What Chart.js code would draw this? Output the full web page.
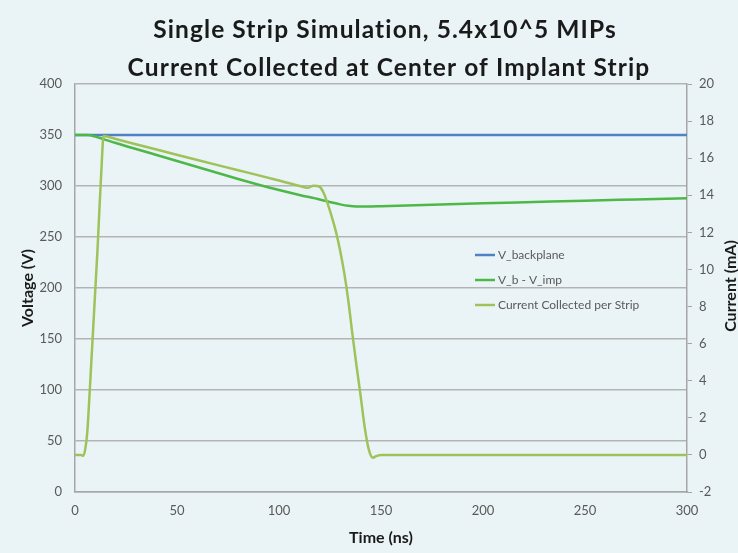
<!DOCTYPE html>
<html>
<head>
<meta charset="utf-8">
<script src="https://cdn.jsdelivr.net/npm/chart.js@4.4.1/dist/chart.umd.min.js"></script>
<style>
  html, body { margin: 0; padding: 0; background: #eaf4f7; }
  #wrap { width: 738px; height: 553px; position: relative; }
</style>
</head>
<body>
<div id="wrap"><canvas id="c"></canvas></div>
<script>
// ---- data ----
var titleLines = ['Single Strip Simulation, 5.4x10^5 MIPs', 'Current Collected at Center of Implant Strip'];
var seriesNames = ['V_backplane', 'V_b - V_imp', 'Current Collected per Strip'];

var timeBack = [0, 300];
var vBack = [350, 350];

var timeDiff = [0, 6, 10, 14, 20, 40, 60, 80, 90, 100, 110, 120, 126, 130, 134, 138, 145, 150, 175, 200, 225, 250, 275, 300];
var vDiff = [350, 350, 348.5, 346, 342.2, 330.4, 318.6, 306.8, 301.2, 296, 291.2, 286.8, 283.8, 282, 280.6, 280, 280, 280.2, 281.5, 283, 284.3, 285.6, 286.8, 288];

var timeCur = [0, 3, 4, 5, 6, 7, 8, 9, 10, 11, 12, 13, 14, 20, 40, 60, 80, 100, 112, 114, 117, 120, 122, 124, 126, 128, 130, 132, 134, 136, 138, 140, 142, 144, 146, 148, 150, 300];
var curMA = [0, 0, -0.05, 0.3, 1.2, 3, 5, 7, 9, 11, 13.3, 15.5, 17.2, 17.03, 16.47, 15.9, 15.35, 14.8, 14.45, 14.4, 14.52, 14.45, 14.1, 13.5, 12.8, 12.0, 11.0, 9.8, 8.3, 6.5, 4.8, 3.2, 1.5, 0.3, -0.15, -0.05, 0, 0];

var colors = ['#4f81c4', '#4db848', '#9dc35a'];
var FONT = 'Lato, "Open Sans", sans-serif';

function pts(xs, ys) {
  return xs.map(function (x, i) { return { x: x, y: ys[i] }; });
}

/* title, right-hand axis title and in-plot legend */
var decor = {
  id: 'decor',
  beforeDraw: function (chart) {
    var ctx = chart.ctx;
    ctx.save();
    ctx.fillStyle = '#eaf4f7';
    ctx.fillRect(0, 0, chart.width, chart.height);
    ctx.restore();
  },
  afterDraw: function (chart) {
    var ctx = chart.ctx;
    ctx.save();
    ctx.fillStyle = '#1a1a1a';
    ctx.font = 'bold 24.5px ' + FONT;
    ctx.letterSpacing = '1.1px';
    ctx.textAlign = 'center';
    ctx.textBaseline = 'alphabetic';
    ctx.fillText(titleLines[0], 385, 38);
    ctx.fillText(titleLines[1], 389, 76);
    ctx.letterSpacing = '0px';

    // secondary axis title, reading bottom to top
    ctx.translate(731, 286);
    ctx.rotate(-Math.PI / 2);
    ctx.font = 'bold 16px ' + FONT;
    ctx.textBaseline = 'middle';
    ctx.fillText('Current (mA)', 0, 0);
    ctx.restore();

    // legend
    ctx.save();
    ctx.font = '12px ' + FONT;
    ctx.textBaseline = 'middle';
    ctx.textAlign = 'left';
    chart.data.datasets.forEach(function (ds, i) {
      var y = 255 + i * 25;
      ctx.strokeStyle = ds.borderColor;
      ctx.lineWidth = 2.5;
      ctx.beginPath(); ctx.moveTo(475, y); ctx.lineTo(495, y); ctx.stroke();
      ctx.fillStyle = '#595959';
      ctx.fillText(ds.label, 498, y);
    });
    ctx.restore();
  }
};

new Chart(document.getElementById('c'), {
  type: 'line',
  data: {
    datasets: [
      { label: seriesNames[0], data: pts(timeBack, vBack), yAxisID: 'y', borderColor: colors[0], order: 3 },
      { label: seriesNames[1], data: pts(timeDiff, vDiff), yAxisID: 'y', borderColor: colors[1], order: 2 },
      { label: seriesNames[2], data: pts(timeCur, curMA), yAxisID: 'y1', borderColor: colors[2], order: 1 },
    ],
  },
  options: {
    responsive: true, maintainAspectRatio: false, animation: false,
    layout: { padding: { top: 84, left: 0, right: 0, bottom: 0 } },
    elements: {
      point: { radius: 0 },
      line: { borderWidth: 2.5, fill: false, cubicInterpolationMode: 'monotone' },
    },
    plugins: { legend: { display: false }, title: { display: false }, tooltip: { enabled: false } },
    scales: {
      x: {
        type: 'linear', min: 0, max: 300,
        ticks: { stepSize: 50, color: '#595959', font: { family: FONT, size: 13 }, padding: 11, maxRotation: 0 },
        grid: { display: false, drawTicks: false },
        border: { color: '#a6a6a6', width: 1.5 },
        title: { display: true, text: 'Time (ns)', color: '#1a1a1a', font: { family: FONT, size: 16, weight: 'bold' }, padding: { top: 0, bottom: 6 } },
        afterFit: function (s) { s.height = 61; },
      },
      y: {
        position: 'left', min: 0, max: 400,
        ticks: { stepSize: 50, color: '#595959', font: { family: FONT, size: 13 }, padding: 13 },
        grid: { color: '#b3b3b3', lineWidth: 1.5, drawTicks: false },
        border: { color: '#a6a6a6', width: 1.5 },
        title: { display: true, text: 'Voltage (V)', color: '#1a1a1a', font: { family: FONT, size: 16, weight: 'bold' }, padding: { top: 18, bottom: 0 } },
        afterFit: function (s) { s.width = 75; },
      },
      y1: {
        position: 'right', min: -2, max: 20,
        ticks: { stepSize: 2, color: '#595959', font: { family: FONT, size: 13 }, padding: 7 },
        grid: { drawOnChartArea: false, tickLength: 5, color: '#a6a6a6' },
        border: { color: '#a6a6a6', width: 1.5 },
        afterFit: function (s) { s.width = 51; },
      },
    },
  },
  plugins: [decor],
});
</script>
</body>
</html>
